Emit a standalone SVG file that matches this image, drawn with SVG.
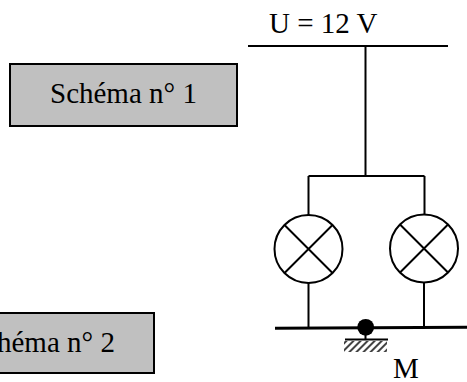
<svg xmlns="http://www.w3.org/2000/svg" width="467" height="382" viewBox="0 0 467 382">
<style>
.t{font-family:"Liberation Serif","Times New Roman",serif;font-size:29px;fill:#000}
.box{fill:#c0c0c0;stroke:#000;stroke-width:2}
.w{fill:none;stroke:#000;stroke-width:2}
.lamp{fill:#fff;stroke:#000;stroke-width:2}
</style>
<defs>
<pattern id="hatch" width="5" height="5" patternUnits="userSpaceOnUse" patternTransform="rotate(45)">
<rect width="5" height="5" fill="#fff"/><rect width="2" height="5" fill="#444"/>
</pattern>
</defs>
<g id="schema1"><rect class="box" x="10" y="64" width="227" height="62"/><text class="t" x="50" y="103">Schéma n° 1</text></g>
<g id="schema2"><rect class="box" x="-40" y="313" width="194" height="60"/><text class="t" x="-32" y="352">Schéma n° 2</text></g>
<g id="connectors">
<path class="w" d="M248 46H448"/>
<path class="w" d="M365.500 46V176M308.500 176H424.500M308.500 176V216M424.500 176V215M308.500 283V328M424 282V327"/>
<path class="w" style="stroke-width:3" d="M275 328.300L467 327.200"/>
<path class="w" d="M365.500 335V340M345 339.500H388"/>
</g>
<g id="supply"><text class="t" x="269" y="33">U = 12 V</text></g>
<g id="lamp1"><circle class="lamp" cx="308.500" cy="249" r="34"/><path class="w" d="M284.500 225L332.500 273M332.500 225L284.500 273"/></g>
<g id="lamp2"><circle class="lamp" cx="424" cy="248.500" r="34"/><path class="w" d="M400 224.500L448 272.500M448 224.500L400 272.500"/></g>
<g id="ground"><circle cx="365.700" cy="327.300" r="8.400" fill="#000"/><rect x="344" y="341" width="43" height="11" fill="url(#hatch)"/><text class="t" x="393" y="378">M</text></g>
</svg>
